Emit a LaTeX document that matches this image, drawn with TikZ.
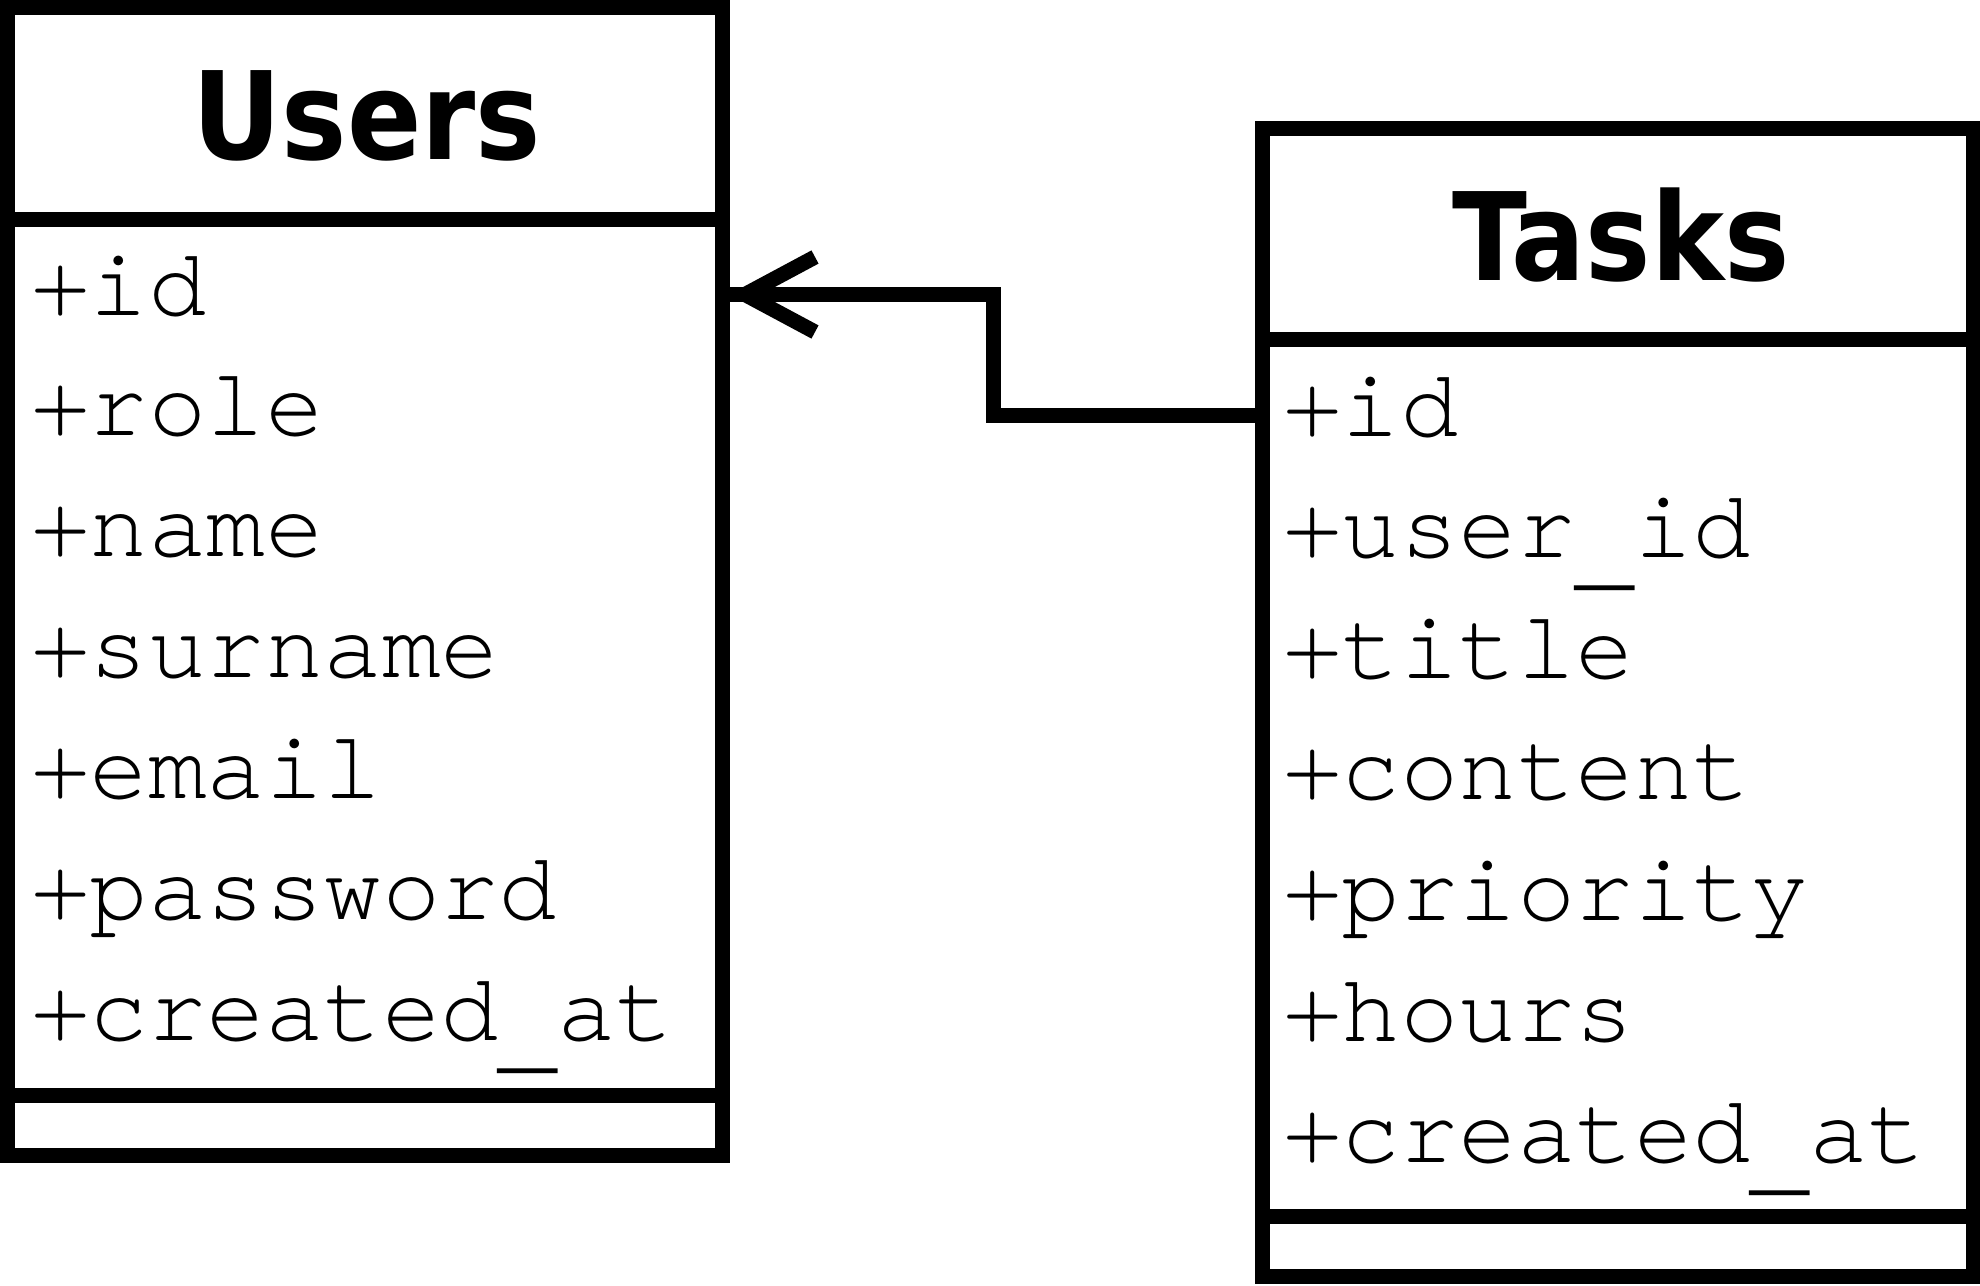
\documentclass[tikz,border=0pt]{standalone}
\usepackage{fontspec}
\setmonofont{texgyrecursor-regular.otf}
\newfontfamily\titlefont{DejaVu Sans Condensed}
\usetikzlibrary{calc}
\newcommand{\lowbar}{\raisebox{-0.22em}{\_}}
\begin{document}
\begin{tikzpicture}[x=0.5pt,y=-0.5pt,
  box/.style={draw=black, line width=7.5pt, fill=white, rectangle, inner sep=0pt, outer sep=0pt},
  divline/.style={line width=7.5pt},
  tabtitle/.style={anchor=base, inner sep=0pt, font=\titlefont\bfseries\fontsize{61}{61}\selectfont},
  attrtext/.style={anchor=base west, inner sep=0pt, font=\ttfamily\fontsize{48.7}{48.7}\selectfont},
  conn/.style={line width=7.5pt, line join=miter}]
\fill[white] (0,0) rectangle (1980,1285);
\useasboundingbox (0,0) rectangle (1980,1285);
% boxes
\node[box, minimum width=357.5pt, minimum height=574pt] (users) at (364.5,581.5) {};
\node[box, minimum width=355.5pt, minimum height=574pt] (tasks) at (1617.5,702) {};
% dividers
\draw[divline] ([yshift=-106pt]users.north west) -- ([yshift=-106pt]users.north east);
\draw[divline] ([yshift=30.25pt]users.south west) -- ([yshift=30.25pt]users.south east);
\draw[divline] ([yshift=-105.75pt]tasks.north west) -- ([yshift=-105.75pt]tasks.north east);
\draw[divline] ([yshift=30pt]tasks.south west) -- ([yshift=30pt]tasks.south east);
% titles
\node[tabtitle] (utitle) at (367,159) {Users};
\node[tabtitle] (ttitle) at (1621,280) {Tasks};
% Users attributes
\node[attrtext] (u1) at (31,315) {+id};
\node[attrtext] (u2) at (31,435.8) {+role};
\node[attrtext] (u3) at (31,556.7) {+name};
\node[attrtext] (u4) at (31,677.5) {+surname};
\node[attrtext] (u5) at (31,798.3) {+email};
\node[attrtext] (u6) at (31,919.2) {+password};
\node[attrtext] (u7) at (31,1040) {+created\lowbar at};
% Tasks attributes
\node[attrtext] (t1) at (1283,436) {+id};
\node[attrtext] (t2) at (1283,557) {+user\lowbar id};
\node[attrtext] (t3) at (1283,678) {+title};
\node[attrtext] (t4) at (1283,799) {+content};
\node[attrtext] (t5) at (1283,920) {+priority};
\node[attrtext] (t6) at (1283,1041) {+hours};
\node[attrtext] (t7) at (1283,1162) {+created\lowbar at};
% connector
\coordinate (tport) at ($(tasks.west)+(0,-287)$);
\coordinate (uport) at ($(users.east)+(0,-287)$);
\draw[conn] (tport) -- ++(-269,0) |- (uport);
\draw[conn] ($(uport)+(93,-37.5)$) -- ($(uport)+(23,0)$) -- ($(uport)+(93,37.5)$);
\end{tikzpicture}
\end{document}
